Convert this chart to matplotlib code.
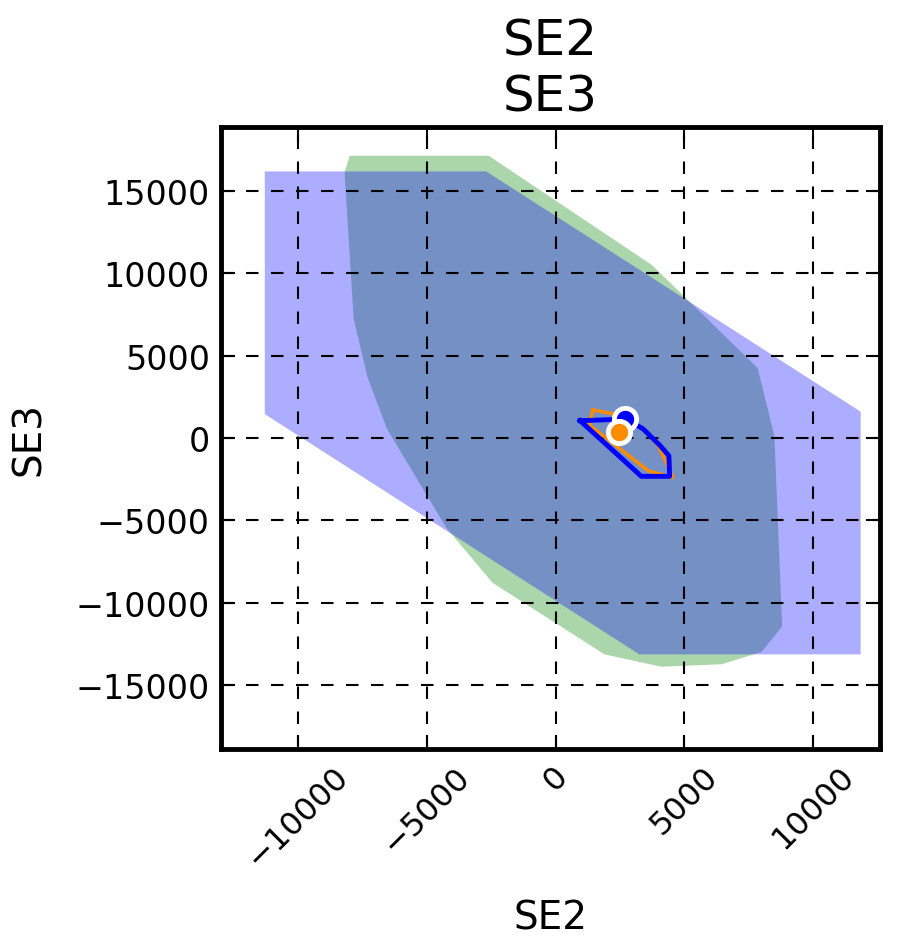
import numpy as np
import matplotlib
matplotlib.use("Agg")
import matplotlib.pyplot as plt

# outer regions (filled)
green_x = [-8000, -2600, 3750, 7850, 8500, 8800, 8000, 6450, 4100, 1900, -2450, -4250, -6550, -7300, -7850, -8200]
green_y = [17150, 17150, 10500, 4250, 100, -11450, -13000, -13750, -13900, -13150, -8800, -5450, 550, 3650, 7250, 16150]

purple_x = [-11300, -2700, 11850, 11850, 3250, -11300]
purple_y = [16200, 16200, 1600, -13150, -13150, 1450]

# inner regions (outlines)
orange_x = [1450, 2300, 3400, 4000, 4450, 4550, 3600, 1300, 1450]
orange_y = [1700, 1450, 600, -500, -2000, -2400, -2000, 800, 1700]

blue_x = [950, 2750, 3400, 4050, 4400, 4430, 3330, 950]
blue_y = [1050, 1150, 550, -450, -1080, -2330, -2330, 1050]

# point estimates
blue_pt = (2680, 1150)
orange_pt = (2460, 350)

fig = plt.figure(figsize=(8.97, 9.37), dpi=100)
ax = fig.add_axes([0.2464, 0.1996, 0.7346, 0.6638])

ax.fill(green_x, green_y, color="g", alpha=0.33, lw=0)
ax.fill(purple_x, purple_y, color="b", alpha=0.32, lw=0)
ax.plot(orange_x, orange_y, color="darkorange", lw=2.5)
ax.plot(blue_x, blue_y, color="b", lw=3.5)
ax.plot(*blue_pt, "o", color="b", mec="w", mew=3.5, ms=16)
ax.plot(*orange_pt, "o", color="darkorange", mec="w", mew=3.5, ms=16)

ax.set_xlim(-13000, 12600)
ax.set_ylim(-18900, 18900)
ax.set_xticks([-10000, -5000, 0, 5000, 10000])
ax.set_yticks([-15000, -10000, -5000, 0, 5000, 10000, 15000])
ax.grid(True, color="k", ls=(0, (6, 6)), lw=1.5)
ax.tick_params(direction="in", length=10, width=1.5, top=True, right=True, labelsize=24, pad=8)
ax.tick_params(axis="x", labelsize=23)
plt.setp(ax.get_xticklabels(), rotation=45)
for s in ax.spines.values():
    s.set_linewidth(3.5)

ax.set_title("SE2\nSE3", fontsize=36, pad=12)
ax.set_xlabel("SE2", fontsize=28, labelpad=18)
ax.set_ylabel("SE3", fontsize=28, labelpad=20)

fig.savefig("out.png", dpi=100)
